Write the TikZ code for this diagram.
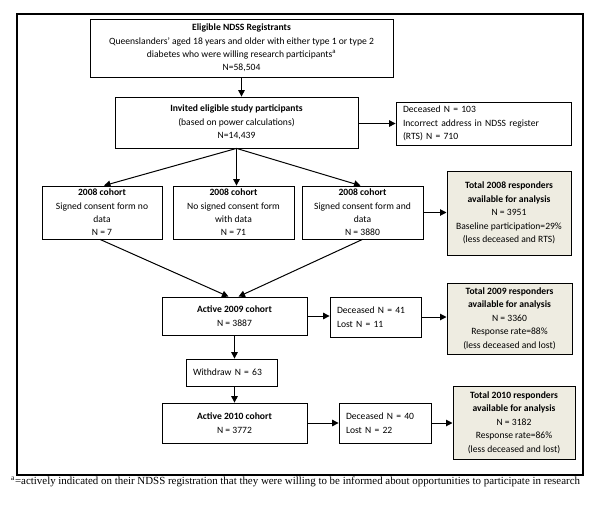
\documentclass[tikz,border=0pt]{standalone}
\usepackage{fontspec}
\setmainfont{Carlito}
\newfontfamily\timesfont{Liberation Serif}
\usetikzlibrary{arrows.meta}
\usetikzlibrary{positioning}
\definecolor{boxtan}{HTML}{EEECE1}
\tikzset{
    box/.style = {rectangle, draw=black, line width=0.8pt, inner sep=0pt, align=center, font=\fontsize{9.6}{13.4}\selectfont},
    boxl/.style = {box, align=left, inner xsep=7pt},
    boxt/.style = {box, fill=boxtan, line width=1pt},
    frame/.style = {draw=black, line width=1.2pt},
    edgen/.style = {-{Triangle[length=6.5pt,width=6.5pt]},line width=1pt},
    note/.style = {anchor=west, inner sep=0pt, font=\timesfont\fontsize{10.9}{12}\selectfont}
}

\begin{document}
\begin{tikzpicture}[x=1pt,y=-1pt]
\useasboundingbox (0,0) rectangle (600,509);
\draw[frame] (17,14) rectangle (583,475);
%
\node[box, minimum width=303, minimum height=58] at (241.5,48) (elig) {\textbf{Eligible NDSS Registrants}\\Queenslanders' aged 18 years and older with either type 1 or type 2\\diabetes who were willing research participants\textsuperscript{a}\\N=58,504};
\node[box, minimum width=243, minimum height=51] at (236.5,122.5) (inv) {\textbf{Invited eligible study participants}\\(based on power calculations)\\N=14,439};
\node[boxl, text width=161, minimum height=43] at (483.5,123.5) (dec) {Deceased N = 103\\Incorrect address in NDSS register\\(RTS) N = 710};
%
\node[box, minimum width=120, minimum height=53] at (102,212.5) (coha) {\textbf{2008 cohort}\\Signed consent form no\\data\\N = 7};
\node[box, minimum width=121, minimum height=53] at (233.5,212.5) (cohb) {\textbf{2008 cohort}\\No signed consent form\\with data\\N = 71};
\node[box, minimum width=121, minimum height=53] at (362.5,212.5) (cohc) {\textbf{2008 cohort}\\Signed consent form and\\data\\N = 3880};
\node[boxt, minimum width=124, minimum height=84] at (509,213) (tot8) {\textbf{Total 2008 responders}\\\textbf{available for analysis}\\N = 3951\\Baseline participation=29\%\\(less deceased and RTS)};
%
\node[box, minimum width=145, minimum height=38] at (234.5,316) (act9) {\textbf{Active 2009 cohort}\\N = 3887};
\node[boxl, text width=77, minimum height=40] at (375.5,317) (dec9) {Deceased N = 41\\Lost N = 11};
\node[boxt, minimum width=125, minimum height=71] at (509.5,318.5) (tot9) {\textbf{Total 2009 responders}\\\textbf{available for analysis}\\N = 3360\\Response rate=88\%\\(less deceased and lost)};
\node[boxl, text width=77, minimum height=27] at (231.5,372.5) (wdr) {Withdraw N = 63};
%
\node[box, minimum width=145, minimum height=40] at (234.5,423) (act10) {\textbf{Active 2010 cohort}\\N = 3772};
\node[boxl, text width=78, minimum height=40] at (385,423) (dec10) {Deceased N = 40\\Lost N = 22};
\node[boxt, minimum width=122, minimum height=73] at (514,422.5) (tot10) {\textbf{Total 2010 responders}\\\textbf{available for analysis}\\N = 3182\\Response rate=86\%\\(less deceased and lost)};
%
\node[note] at (11,482) (fn) {\textsuperscript{a}=actively indicated on their NDSS registration that they were willing to be informed about opportunities to participate in research};
%
\draw[edgen] (elig) -- (elig.south |- inv.north);
\draw[edgen] (inv.east |- dec.west) -- (dec.west);
\draw[edgen] (inv.south) -- ([xshift=2pt]coha.north);
\draw[edgen] (inv.south) -- (inv.south |- cohb.north);
\draw[edgen] (inv.south) -- ([xshift=-2pt]cohc.north);
\draw[edgen] (cohc.east) -- (cohc.east -| tot8.west);
\draw[edgen] ([xshift=-2pt]coha.south) -- ([xshift=-6pt]act9.north);
\draw[edgen] (cohc.south) -- ([xshift=4pt]act9.north);
\draw[edgen] (act9.east) -- (act9.east -| dec9.west);
\draw[edgen] (dec9.east) -- (dec9.east -| tot9.west);
\draw[edgen] (act9.south) -- (act9.south |- wdr.north);
\draw[edgen] (act9.south |- wdr.south) -- (act10.north);
\draw[edgen] (act10) -- (dec10);
\draw[edgen] (dec10.east) -- (dec10.east -| tot10.west);
\end{tikzpicture}
\end{document}
